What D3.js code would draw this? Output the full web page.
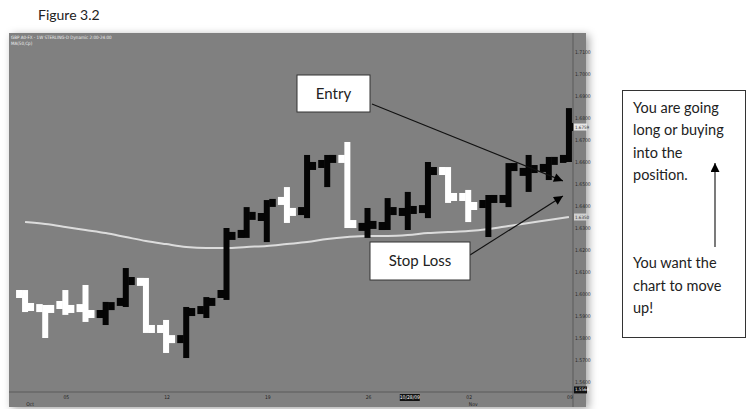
<!DOCTYPE html>
<html lang="en">
<head>
<meta charset="UTF-8">
<title>Figure 3.2</title>
<script src="https://d3js.org/d3.v7.min.js"></script>
<style type="text/css">
    body { margin: 0; background: #fff; }
    svg { display: block; }
    .axis text { font-family: "DejaVu Sans Condensed", "DejaVu Sans", sans-serif; }
    .axis path, .axis line { stroke: none; }
    .ma { fill: none; stroke: #dcdcdc; stroke-width: 2; }
    .note text { font-family: Lato, "Open Sans", sans-serif; fill: #222; }
</style>
</head>
<body>
<script>

// daily bars, Oct 1 - Nov 9 2009
var dates = ["10/01/09","10/02/09","10/05/09","10/06/09","10/07/09","10/08/09","10/09/09",
             "10/12/09","10/13/09","10/14/09","10/15/09","10/16/09",
             "10/19/09","10/20/09","10/21/09","10/22/09","10/23/09",
             "10/26/09","10/27/09","10/28/09","10/29/09","10/30/09",
             "11/02/09","11/03/09","11/04/09","11/05/09","11/06/09","11/09/09"];

var open  = [1.6000,1.5936,1.5950,1.5936,1.5909,1.5964,1.6055,1.5841,1.5795,1.5927,1.6000,1.6273,1.6350,1.6423,
             1.6377,1.6591,1.6614,1.6305,1.6309,1.6373,1.6386,1.6559,1.6441,1.6409,1.6432,1.6555,1.6573,1.6614];
var high  = [1.6018,1.5950,1.6018,1.6041,1.5964,1.6118,1.6073,1.5882,1.5941,1.5986,1.6300,1.6395,1.6427,1.6486,
             1.6632,1.6632,1.6691,1.6391,1.6436,1.6464,1.6600,1.6577,1.6473,1.6450,1.6595,1.6632,1.6623,1.6845];
var low   = [1.5918,1.5800,1.5905,1.5873,1.5859,1.5941,1.5823,1.5732,1.5709,1.5891,1.5973,1.6255,1.6236,1.6323,
             1.6345,1.6486,1.6300,1.6255,1.6291,1.6291,1.6345,1.6414,1.6327,1.6259,1.6395,1.6464,1.6518,1.6600];
var close = [1.5941,1.5932,1.5932,1.5909,1.5945,1.6059,1.5841,1.5795,1.5918,1.5964,1.6264,1.6355,1.6414,1.6373,
             1.6582,1.6614,1.6318,1.6314,1.6377,1.6382,1.6559,1.6441,1.6400,1.6432,1.6577,1.6568,1.6605,1.6759];

// MA(50) value at each bar
var ma50 = [1.6327,1.6318,1.6305,1.6291,1.6277,1.6259,1.6241,1.6227,1.6214,1.6209,1.6209,1.6214,1.6218,1.6227,
            1.6236,1.6250,1.6259,1.6264,1.6264,1.6268,1.6277,1.6282,1.6286,1.6295,1.6309,1.6323,1.6336,1.6350];

var priceTicks = [1.56,1.57,1.58,1.59,1.60,1.61,1.62,1.63,1.64,1.65,1.66,1.67,1.68,1.69,1.70,1.71];
var weekTicks  = ["10/05/09","10/12/09","10/19/09","10/26/09","11/02/09","11/09/09"];
var weekLabels = ["05","12","19","26","02","09"];
var monthTicks = ["10/01/09","11/02/09"];
var monthLabels = ["Oct","Nov"];
var cursorDate = "10/28/09";

var W = 748, H = 409;
var plot = {left: 9, top: 33, right: 573, bottom: 392, outerRight: 586, outerBottom: 407};

var svg = d3.select("body").append("svg")
    .attr("width", W)
    .attr("height", H);

var defs = svg.append("defs");
var sh = defs.append("filter").attr("id", "shadow")
    .attr("x", "-5%").attr("y", "-5%").attr("width", "110%").attr("height", "110%");
sh.append("feDropShadow").attr("dx", 3).attr("dy", 2).attr("stdDeviation", 4)
    .attr("flood-color", "#000").attr("flood-opacity", 0.35);
defs.append("clipPath").attr("id", "clip").append("rect")
    .attr("x", plot.left).attr("y", plot.top)
    .attr("width", plot.right - plot.left).attr("height", plot.bottom - plot.top);

// title above the screenshot
svg.append("text")
    .attr("x", 38).attr("y", 20)
    .style("font-family", "Lato, sans-serif").style("font-size", "14px").style("fill", "#222")
    .text("Figure 3.2");

// chart background
svg.append("rect")
    .attr("x", plot.left).attr("y", plot.top)
    .attr("width", plot.outerRight - plot.left).attr("height", plot.outerBottom - plot.top)
    .attr("fill", "#808080")
    .attr("filter", "url(#shadow)");

// scales
var x = d3.scaleBand().domain(dates).range([15, 579]);
var cx = function(d) { return x(d) + x.bandwidth() / 2; };
var y = d3.scaleLinear().domain([1.56, 1.71]).range([382, 52]);

// axis lines
svg.append("line").attr("x1", plot.right).attr("x2", plot.right)
    .attr("y1", plot.top).attr("y2", plot.outerBottom)
    .attr("stroke", "#5a5a5a").attr("stroke-width", 1);
svg.append("line").attr("x1", plot.left).attr("x2", plot.outerRight)
    .attr("y1", plot.bottom).attr("y2", plot.bottom)
    .attr("stroke", "#5a5a5a").attr("stroke-width", 1.2);

// header text
var hdr = svg.append("g").style("font-family", "'DejaVu Sans Condensed', sans-serif")
    .style("font-size", "4.5px").style("fill", "#eee");
hdr.append("text").attr("x", 11).attr("y", 39).text("GBP A0-FX - 1W  STERLING-D  Dynamic 2:00-24:00");
hdr.append("text").attr("x", 11).attr("y", 45).text("MA(50,Cp)");

// right price axis
svg.append("g")
    .attr("class", "axis")
    .attr("transform", "translate(" + plot.right + ",0)")
    .call(d3.axisRight(y).tickValues(priceTicks).tickSize(0).tickPadding(2).tickFormat(d3.format(".4f")))
    .selectAll("text").style("font-size", "5px").style("fill", "#2a2a2a");

// bottom date axis
var xa = svg.append("g")
    .attr("class", "axis")
    .attr("transform", "translate(1," + plot.bottom + ")")
    .call(d3.axisBottom(x).tickValues(weekTicks).tickSize(0).tickPadding(3)
        .tickFormat(function(d) { return weekLabels[weekTicks.indexOf(d)]; }));
xa.selectAll("text").style("font-size", "5px").style("fill", "#222");

var xm = svg.append("g")
    .attr("class", "axis")
    .attr("transform", "translate(5," + (plot.bottom + 7) + ")")
    .call(d3.axisBottom(x).tickValues(monthTicks).tickSize(0).tickPadding(3)
        .tickFormat(function(d) { return monthLabels[monthTicks.indexOf(d)]; }));
xm.selectAll("text").style("font-size", "5px").style("fill", "#222");

// cursor date box
var cd = svg.append("g").attr("transform", "translate(" + (cx(cursorDate) + 2) + "," + (plot.bottom + 5.5) + ")");
cd.append("rect").attr("x", -10).attr("y", -3.5).attr("width", 20).attr("height", 7).attr("fill", "#111");
cd.append("text").attr("text-anchor", "middle").attr("dy", "0.35em")
    .style("font-family", "'DejaVu Sans Condensed', sans-serif").style("font-size", "5px").style("fill", "#fff")
    .text(cursorDate);

// price highlight labels
function priceTag(v, bg, fg) {
    var g = svg.append("g").attr("transform", "translate(" + (plot.right + 1) + "," + y(v) + ")");
    g.append("rect").attr("x", 0).attr("y", -3.5).attr("width", 13).attr("height", 7).attr("fill", bg);
    g.append("text").attr("x", 1).attr("dy", "0.35em")
        .style("font-family", "'DejaVu Sans Condensed', sans-serif").style("font-size", "4.5px").style("fill", fg)
        .text(d3.format(".4f")(v));
}
priceTag(close[close.length - 1], "#e6e6e6", "#333");
priceTag(ma50[ma50.length - 1], "#d0d0d0", "#333");
priceTag(1.5564, "#111", "#fff");

var chart = svg.append("g").attr("clip-path", "url(#clip)");

// moving average
var line = d3.line()
    .x(function(d, i) { return cx(dates[i]); })
    .y(function(d) { return y(d); })
    .curve(d3.curveMonotoneX);

chart.append("path")
    .datum(ma50)
    .attr("class", "ma")
    .attr("d", line);

// OHLC bars
var bw = 6, tw = 6, th = 8;
var bars = chart.selectAll(".bar")
    .data(dates)
  .enter().append("g")
    .attr("class", "bar")
    .attr("fill", function(d, i) { return close[i] >= open[i] ? "#050505" : "#ffffff"; });

bars.append("rect")
    .attr("x", function(d) { return cx(d) - bw / 2; })
    .attr("y", function(d, i) { return y(high[i]); })
    .attr("width", bw)
    .attr("height", function(d, i) { return y(low[i]) - y(high[i]); });
bars.append("rect")
    .attr("x", function(d) { return cx(d) - bw / 2 - tw; })
    .attr("y", function(d, i) { return y(open[i]) - th / 2; })
    .attr("width", tw + 0.5)
    .attr("height", th);
bars.append("rect")
    .attr("x", function(d) { return cx(d) + bw / 2 - 0.5; })
    .attr("y", function(d, i) { return y(close[i]) - th / 2; })
    .attr("width", tw + 0.5)
    .attr("height", th);

// annotations
defs.append("marker").attr("id", "arr")
    .attr("viewBox", "0 0 10 10").attr("refX", 10).attr("refY", 5)
    .attr("markerUnits", "userSpaceOnUse")
    .attr("markerWidth", 11).attr("markerHeight", 9).attr("orient", "auto")
    .append("path").attr("d", "M0,0L10,5L0,10Z").attr("fill", "#000");

var notes = [
    {label: "Entry",     box: [297, 75, 73, 37],  from: [372, 104], to: ["11/09/09", 1.6514]},
    {label: "Stop Loss", box: [370, 242, 100, 38], from: [470, 255], to: ["11/09/09", 1.6445]}
];

var ng = svg.selectAll(".note").data(notes).enter().append("g").attr("class", "note");
ng.append("line")
    .attr("x1", function(d) { return d.from[0]; })
    .attr("y1", function(d) { return d.from[1]; })
    .attr("x2", function(d) { return cx(d.to[0]) - 6; })
    .attr("y2", function(d) { return y(d.to[1]); })
    .attr("stroke", "#111").attr("stroke-width", 1.2)
    .attr("marker-end", "url(#arr)");
ng.append("rect")
    .attr("x", function(d) { return d.box[0]; })
    .attr("y", function(d) { return d.box[1]; })
    .attr("width", function(d) { return d.box[2]; })
    .attr("height", function(d) { return d.box[3]; })
    .attr("fill", "#fff").attr("stroke", "#333").attr("stroke-width", 1);
ng.append("text")
    .attr("x", function(d) { return d.box[0] + d.box[2] / 2; })
    .attr("y", function(d) { return d.box[1] + d.box[3] / 2; })
    .attr("dy", "0.35em")
    .attr("text-anchor", "middle")
    .style("font-size", "15px")
    .text(function(d) { return d.label; });

// side note
var side = svg.append("g").attr("class", "note");
side.append("rect").attr("x", 622.5).attr("y", 90.5).attr("width", 123).attr("height", 247)
    .attr("fill", "#fff").attr("stroke", "#333").attr("stroke-width", 1);
var sideLines = [["You are going", 113], ["long or buying", 135], ["into the", 158], ["position.", 180],
                 ["You want the", 268], ["chart to move", 291], ["up!", 313]];
side.selectAll("text").data(sideLines).enter().append("text")
    .attr("x", 633).attr("y", function(d) { return d[1]; })
    .style("font-size", "14.5px")
    .text(function(d) { return d[0]; });
side.append("line").attr("x1", 715).attr("x2", 715).attr("y1", 247).attr("y2", 163)
    .attr("stroke", "#222").attr("stroke-width", 1.2).attr("marker-end", "url(#arr)");

</script>
</body>
</html>
